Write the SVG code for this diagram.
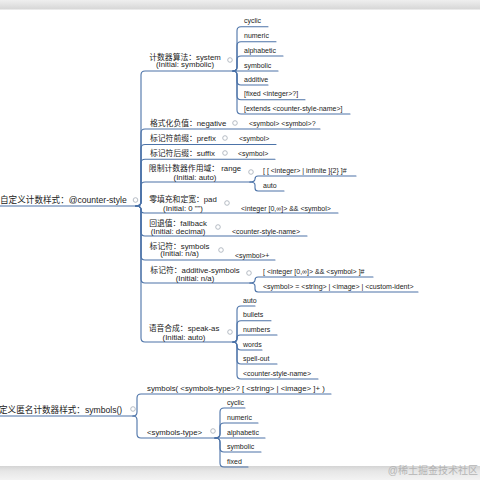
<svg xmlns="http://www.w3.org/2000/svg" width="480" height="480" viewBox="0 0 480 480">
<defs>
<linearGradient id="topg" x1="0" y1="0" x2="0" y2="1"><stop offset="0" stop-color="#efefef"/><stop offset="1" stop-color="#d6d6d6"/></linearGradient>
<linearGradient id="botg" x1="0" y1="0" x2="0" y2="1"><stop offset="0" stop-color="#d4d4d4"/><stop offset="0.35" stop-color="#e6e6e6"/><stop offset="1" stop-color="#f3f3f3"/></linearGradient>
</defs>
<style>
text{font-family:"Liberation Sans","Noto Sans CJK SC",sans-serif;fill:#222}
.r{font-size:8.6px}
.c{font-size:7.8px}
.m{text-anchor:middle}
.l{font-size:7px}
.cn path{fill:none;stroke:#4c73a8;stroke-width:1.1;stroke-linecap:round}
circle.k{fill:#fff;stroke:#a4acb6;stroke-width:0.8}
.wm{font-size:10px;fill:#b4b4b4}
</style>
<rect width="480" height="480" fill="#fff"/>
<rect x="0" y="0" width="480" height="9.5" fill="url(#topg)"/>
<rect x="0" y="466" width="480" height="14" fill="url(#botg)"/>

<g id="connectors" class="cn">
<path d="M0 206 H136"/>
<path d="M136 206 Q141 206 141 202 V75 Q141 71 145 71 H233"/>
<path d="M136 206 Q141 206 141 202 V133 Q141 129 145 129 H320"/>
<path d="M136 206 Q141 206 141 202 V148.5 Q141 144.5 145 144.5 H276"/>
<path d="M136 206 Q141 206 141 202 V163.3 Q141 159.3 145 159.3 H275"/>
<path d="M136 206 Q141 206 141 202 V186 Q141 182 145 182 H250"/>
<path d="M136 206 Q141 206 141 209 V210 Q141 213 144 213 H338"/>
<path d="M136 206 Q141 206 141 210 V232 Q141 236 145 236 H307"/>
<path d="M136 206 Q141 206 141 210 V256 Q141 260 145 260 H275"/>
<path d="M136 206 Q141 206 141 210 V279 Q141 283 145 283 H250"/>
<path d="M136 206 Q141 206 141 210 V338 Q141 342 145 342 H233"/>

<path d="M233 71 Q237 71 237 67 V30.7 Q237 26.7 241 26.7 H268"/>
<path d="M233 71 Q237 71 237 67 V45.7 Q237 41.7 241 41.7 H276"/>
<path d="M233 71 Q237 71 237 67 V60 Q237 56 241 56 H283"/>
<path d="M233 71 H278"/>
<path d="M233 71 Q237 71 237 75 V81 Q237 85 241 85 H268"/>
<path d="M233 71 Q237 71 237 75 V95.7 Q237 99.7 241 99.7 H305"/>
<path d="M233 71 Q237 71 237 75 V110 Q237 114 241 114 H350"/>

<path d="M250 182 Q255 182 255 179 Q255 176 258 176 H356"/>
<path d="M250 182 Q255 182 255 185 V188 Q255 191 258 191 H284"/>

<path d="M250 283 Q255 283 255 280 Q255 277 258 277 H373"/>
<path d="M250 283 Q255 283 255 286 V289 Q255 292 258 292 H418"/>

<path d="M233 342 Q237 342 237 338 V310 Q237 306 241 306 H255"/>
<path d="M233 342 Q237 342 237 338 V324.7 Q237 320.7 241 320.7 H271"/>
<path d="M233 342 Q237 342 237 339 V338 Q237 335 240 335 H277"/>
<path d="M233 342 Q237 342 237 346 Q237 350 241 350 H262"/>
<path d="M233 342 Q237 342 237 346 V360 Q237 364 241 364 H277"/>
<path d="M233 342 Q237 342 237 346 V375 Q237 379 241 379 H318"/>

<path d="M0 416 H133"/>
<path d="M133 416 Q137 416 137 412 V398 Q137 394 141 394 H331"/>
<path d="M133 416 Q137 416 137 420 V434 Q137 438 141 438 H215"/>

<path d="M215 438 Q220 438 220 434 V412 Q220 408 224 408 H245"/>
<path d="M215 438 Q220 438 220 434 V427 Q220 423 224 423 H258"/>
<path d="M215 438 H265"/>
<path d="M215 438 Q220 438 220 442 V448 Q220 452 224 452 H261"/>
<path d="M215 438 Q220 438 220 442 V463 Q220 467 224 467 H248"/>
</g>

<g id="root-counter-style">
<text class="r" x="0" y="203">自定义计数样式：@counter-style</text>
<circle class="k" cx="135.5" cy="200" r="2.3"/>
</g>

<g id="system">
<text class="c m" x="185" y="59.5">计数器算法：system</text>
<text class="c m" x="185" y="67.3">(Initial: symbolic)</text>
<circle class="k" cx="230" cy="60" r="2.3"/>
</g>
<g id="system-values">
<text class="l" x="244" y="23.4">cyclic</text>
<text class="l" x="244" y="38.4">numeric</text>
<text class="l" x="244" y="52.7">alphabetic</text>
<text class="l" x="244" y="67.5">symbolic</text>
<text class="l" x="244" y="81.7">additive</text>
<text class="l" x="244" y="96.4">[fixed &lt;integer&gt;?]</text>
<text class="l" x="244" y="110.7">[extends &lt;counter-style-name&gt;]</text>
</g>

<g id="negative">
<text class="c" x="150" y="126">格式化负值：negative</text>
<circle class="k" cx="235" cy="123" r="2.3"/>
<text class="l" x="249" y="125.8">&lt;symbol&gt; &lt;symbol&gt;?</text>
</g>

<g id="prefix">
<text class="c" x="150" y="141">标记符前缀：prefix</text>
<circle class="k" cx="225" cy="138" r="2.3"/>
<text class="l" x="239" y="141.2">&lt;symbol&gt;</text>
</g>

<g id="suffix">
<text class="c" x="150" y="156">标记符后缀：suffix</text>
<circle class="k" cx="225" cy="153" r="2.3"/>
<text class="l" x="238" y="156">&lt;symbol&gt;</text>
</g>

<g id="range">
<text class="c m" x="195" y="170.8">限制计数器作用域： range</text>
<text class="c m" x="195" y="179.5">(Initial: auto)</text>
<circle class="k" cx="251" cy="172" r="2.3"/>
<text class="l" x="263" y="172.7">[ [ &lt;integer&gt; | infinite ]{2} ]#</text>
<text class="l" x="263" y="187.7">auto</text>
</g>

<g id="pad">
<text class="c m" x="183" y="201.8">零填充和定宽：pad</text>
<text class="c m" x="183" y="210.5">(Initial: 0 "")</text>
<circle class="k" cx="227" cy="203" r="2.3"/>
<text class="l" x="241" y="210.5">&lt;integer [0,∞]&gt; &amp;&amp; &lt;symbol&gt;</text>
</g>

<g id="fallback">
<text class="c m" x="178" y="225.8">回退值：fallback</text>
<text class="c m" x="178" y="233.8">(Initial: decimal)</text>
<circle class="k" cx="218" cy="227" r="2.3"/>
<text class="l" x="232" y="233.5">&lt;counter-style-name&gt;</text>
</g>

<g id="symbols">
<text class="c m" x="179.5" y="248.8">标记符：symbols</text>
<text class="c m" x="179.5" y="256.3">(Initial: n/a)</text>
<circle class="k" cx="221" cy="250" r="2.3"/>
<text class="l" x="235" y="257.5">&lt;symbol&gt;+</text>
</g>

<g id="additive-symbols">
<text class="c m" x="195" y="272.8">标记符：additive-symbols</text>
<text class="c m" x="195" y="280.8">(Initial: n/a)</text>
<circle class="k" cx="249" cy="273" r="2.3"/>
<text class="l" x="263" y="273.7">[ &lt;integer [0,∞]&gt; &amp;&amp; &lt;symbol&gt; ]#</text>
<text class="l" x="263" y="288.7">&lt;symbol&gt; = &lt;string&gt; | &lt;image&gt; | &lt;custom-ident&gt;</text>
</g>

<g id="speak-as">
<text class="c m" x="184" y="330.8">语音合成：speak-as</text>
<text class="c m" x="184" y="339.8">(Initial: auto)</text>
<circle class="k" cx="230" cy="332" r="2.3"/>
<text class="l" x="243" y="302.7">auto</text>
<text class="l" x="243" y="317.4">bullets</text>
<text class="l" x="243" y="331.7">numbers</text>
<text class="l" x="243" y="346.7">words</text>
<text class="l" x="243" y="360.7">spell-out</text>
<text class="l" x="243" y="375.7">&lt;counter-style-name&gt;</text>
</g>

<g id="root-symbols">
<text class="r" x="-1" y="413">定义匿名计数器样式：symbols()</text>
<circle class="k" cx="133" cy="409" r="2.3"/>
</g>

<g id="symbols-func">
<text class="c" x="147" y="390.8">symbols( &lt;symbols-type&gt;? [ &lt;string&gt; | &lt;image&gt; ]+ )</text>
</g>

<g id="symbols-type">
<text class="c" x="147" y="434.8">&lt;symbols-type&gt;</text>
<circle class="k" cx="213" cy="431" r="2.3"/>
<text class="l" x="227" y="404.7">cyclic</text>
<text class="l" x="227" y="419.7">numeric</text>
<text class="l" x="227" y="434.7">alphabetic</text>
<text class="l" x="227" y="448.7">symbolic</text>
<text class="l" x="227" y="463.7">fixed</text>
</g>

<text class="wm" x="478" y="473.5" text-anchor="end">@稀土掘金技术社区</text>
</svg>
